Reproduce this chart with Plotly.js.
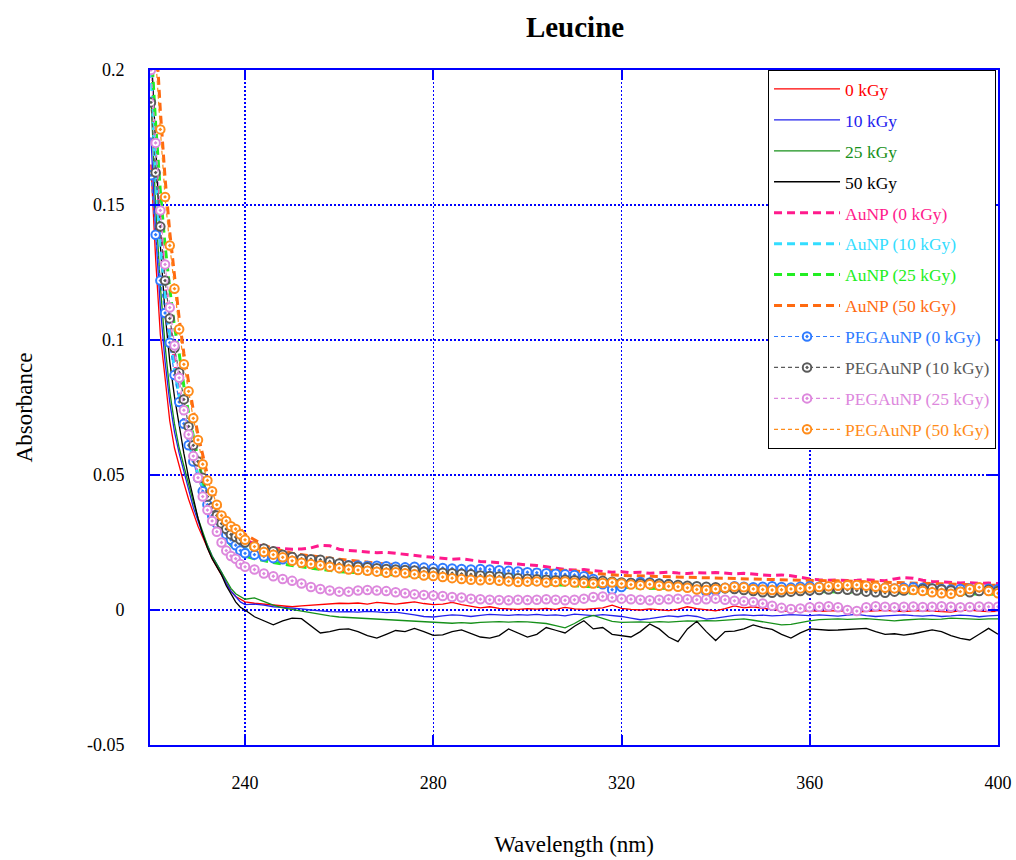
<!DOCTYPE html>
<html>
<head>
<meta charset="utf-8">
<script src="https://cdn.plot.ly/plotly-3.0.1.min.js"></script>
<style>html,body{margin:0;padding:0;background:#fff;}#chart{width:1016px;height:860px;}</style>
</head>
<body>
<div id="chart"></div>
<script>
// Wavelength (nm)
const wavelength = [220,221,222,223,224,225,226,227,228,229,230,231,232,233,234,235,236,237,238,239,240,
242,244,246,248,250,252,254,256,258,260,
262,264,266,268,270,272,274,276,278,280,
282,284,286,288,290,292,294,296,298,300,
302,304,306,308,310,312,314,316,318,320,
322,324,326,328,330,332,334,336,338,340,
342,344,346,348,350,352,354,356,358,360,
362,364,366,368,370,372,374,376,378,380,
382,384,386,388,390,392,394,396,398,400];

const kGy0 = [0.165,0.130,0.102,0.085,0.070,0.060,0.053,0.047,0.041,0.036,0.031,0.027,0.023,0.019,0.016,0.013,0.010,0.007,0.005,0.004,0.003,
0.0025,0.0022,0.0020,0.0015,0.0012,0.0015,0.0018,0.0020,0.0022,0.0025,
0.0024,0.0026,0.0022,0.0028,0.0025,0.0022,0.0026,0.0030,0.0024,0.0020,
0.0022,0.0028,0.0020,0.0014,0.0008,0.0012,0.0006,0.0004,0.0002,0.0005,
0.0003,0.0006,0.0002,0.0010,0.0004,0.0002,0.0005,0.0008,0.0018,0.0006,
0.0002,0.0000,0.0004,0.0001,-0.0002,0.0003,0.0012,0.0005,0.0000,-0.0003,
0.0005,0.0015,0.0008,0.0012,0.0006,0.0003,-0.0003,-0.0006,-0.0004,-0.0002,
-0.0005,-0.0004,-0.0002,-0.0006,-0.0008,-0.0005,-0.0003,-0.0001,-0.0004,-0.0006,
-0.0003,-0.0002,-0.0004,-0.0006,-0.0008,-0.0002,0.0000,-0.0004,-0.0006,-0.0005];

const kGy10 = [0.175,0.140,0.112,0.092,0.077,0.066,0.058,0.051,0.044,0.038,0.033,0.028,0.024,0.020,0.017,0.014,0.010,0.007,0.005,0.003,0.002,
0.0022,0.0018,0.0012,0.0010,0.0008,0.0004,0.0000,-0.0004,-0.0006,-0.0007,
-0.0006,-0.0008,-0.0005,-0.0007,-0.0010,-0.0008,-0.0012,-0.0018,-0.0024,-0.0026,
-0.0022,-0.0018,-0.0020,-0.0024,-0.0020,-0.0016,-0.0018,-0.0020,-0.0017,-0.0019,
-0.0016,-0.0020,-0.0018,-0.0022,-0.0015,-0.0019,-0.0021,-0.0017,-0.0020,-0.0024,
-0.0030,-0.0036,-0.0032,-0.0026,-0.0022,-0.0025,-0.0020,-0.0024,-0.0034,-0.0030,
-0.0024,-0.0020,-0.0018,-0.0021,-0.0019,-0.0022,-0.0020,-0.0017,-0.0019,-0.0021,
-0.0018,-0.0020,-0.0023,-0.0019,-0.0016,-0.0021,-0.0024,-0.0022,-0.0020,-0.0018,
-0.0021,-0.0023,-0.0020,-0.0024,-0.0022,-0.0019,-0.0021,-0.0025,-0.0022,-0.0020];

const kGy25 = [0.190,0.150,0.120,0.098,0.081,0.069,0.060,0.053,0.046,0.040,0.034,0.029,0.024,0.020,0.017,0.014,0.011,0.008,0.006,0.005,0.004,
0.0045,0.0030,0.0018,0.0008,0.0002,-0.0005,-0.0010,-0.0016,-0.0022,-0.0026,
-0.0028,-0.0031,-0.0033,-0.0034,-0.0036,-0.0038,-0.0040,-0.0042,-0.0044,-0.0046,
-0.0048,-0.0049,-0.0047,-0.0049,-0.0046,-0.0044,-0.0043,-0.0045,-0.0043,-0.0044,
-0.0046,-0.0050,-0.0058,-0.0066,-0.0050,-0.0030,-0.0020,-0.0030,-0.0042,-0.0046,
-0.0045,-0.0044,-0.0046,-0.0043,-0.0045,-0.0042,-0.0040,-0.0041,-0.0039,-0.0040,
-0.0037,-0.0034,-0.0033,-0.0038,-0.0044,-0.0050,-0.0055,-0.0053,-0.0046,-0.0040,
-0.0036,-0.0034,-0.0033,-0.0035,-0.0034,-0.0032,-0.0035,-0.0038,-0.0040,-0.0037,
-0.0034,-0.0033,-0.0035,-0.0034,-0.0030,-0.0032,-0.0034,-0.0035,-0.0033,-0.0033];

const kGy50 = [0.210,0.170,0.135,0.110,0.092,0.079,0.068,0.058,0.049,0.041,0.034,0.028,0.023,0.019,0.016,0.013,0.009,0.006,0.003,0.001,0.000,
-0.0025,-0.0040,-0.0055,-0.0040,-0.0030,-0.0032,-0.0060,-0.0085,-0.0080,-0.0072,
-0.0070,-0.0080,-0.0095,-0.0104,-0.0090,-0.0076,-0.0080,-0.0068,-0.0080,-0.0094,
-0.0092,-0.0080,-0.0074,-0.0088,-0.0100,-0.0104,-0.0095,-0.0070,-0.0085,-0.0100,
-0.0090,-0.0065,-0.0075,-0.0085,-0.0060,-0.0040,-0.0070,-0.0065,-0.0090,-0.0095,
-0.0100,-0.0080,-0.0052,-0.0070,-0.0100,-0.0117,-0.0070,-0.0042,-0.0080,-0.0113,
-0.0080,-0.0078,-0.0070,-0.0055,-0.0065,-0.0072,-0.0090,-0.0104,-0.0085,-0.0070,
-0.0072,-0.0075,-0.0074,-0.0072,-0.0070,-0.0068,-0.0080,-0.0090,-0.0088,-0.0093,
-0.0088,-0.0080,-0.0074,-0.0080,-0.0095,-0.0105,-0.0111,-0.0090,-0.0068,-0.0090];

const auNP0 = [0.210,0.170,0.142,0.120,0.104,0.091,0.080,0.071,0.063,0.056,0.050,0.045,0.041,0.038,0.036,0.034,0.032,0.030,0.028,0.027,0.026,
0.0245,0.0235,0.0230,0.0228,0.0225,0.0226,0.0230,0.0240,0.0238,0.0225,
0.0220,0.0218,0.0215,0.0212,0.0214,0.0210,0.0205,0.0200,0.0198,0.0195,
0.0192,0.0188,0.0190,0.0185,0.0180,0.0178,0.0176,0.0172,0.0170,0.0167,
0.0165,0.0160,0.0155,0.0150,0.0148,0.0150,0.0146,0.0142,0.0140,0.0142,
0.0138,0.0140,0.0136,0.0138,0.0140,0.0137,0.0135,0.0138,0.0137,0.0139,
0.0136,0.0134,0.0136,0.0132,0.0130,0.0128,0.0130,0.0127,0.0120,0.0115,
0.0112,0.0110,0.0111,0.0109,0.0110,0.0112,0.0110,0.0108,0.0115,0.0120,
0.0118,0.0110,0.0106,0.0104,0.0102,0.0100,0.0101,0.0099,0.0100,0.0098];

const auNP10 = [0.200,0.160,0.135,0.117,0.102,0.089,0.079,0.070,0.062,0.056,0.050,0.045,0.040,0.036,0.033,0.031,0.029,0.027,0.025,0.024,0.023,
0.0200,0.0192,0.0186,0.0182,0.0178,0.0174,0.0170,0.0167,0.0164,0.0162,
0.0160,0.0158,0.0157,0.0156,0.0154,0.0152,0.0151,0.0150,0.0148,0.0146,
0.0145,0.0143,0.0141,0.0140,0.0138,0.0136,0.0134,0.0132,0.0130,0.0128,
0.0126,0.0124,0.0122,0.0120,0.0118,0.0116,0.0114,0.0112,0.0110,0.0108,
0.0106,0.0104,0.0102,0.0100,0.0098,0.0096,0.0094,0.0092,0.0090,0.0088,
0.0087,0.0086,0.0085,0.0084,0.0083,0.0082,0.0081,0.0080,0.0079,0.0078,
0.0078,0.0077,0.0076,0.0076,0.0075,0.0075,0.0074,0.0074,0.0073,0.0073,
0.0072,0.0072,0.0071,0.0071,0.0070,0.0070,0.0069,0.0069,0.0068,0.0068];

const auNP25 = [0.210,0.180,0.155,0.135,0.119,0.105,0.095,0.083,0.073,0.064,0.056,0.048,0.042,0.037,0.033,0.029,0.026,0.024,0.022,0.021,0.020,
0.0190,0.0182,0.0176,0.0170,0.0166,0.0160,0.0155,0.0150,0.0146,0.0142,
0.0140,0.0138,0.0135,0.0133,0.0130,0.0128,0.0126,0.0124,0.0122,0.0120,
0.0118,0.0116,0.0114,0.0112,0.0110,0.0108,0.0106,0.0104,0.0102,0.0100,
0.0098,0.0096,0.0094,0.0092,0.0090,0.0088,0.0086,0.0088,0.0086,0.0084,
0.0084,0.0082,0.0080,0.0081,0.0080,0.0079,0.0078,0.0077,0.0076,0.0075,
0.0074,0.0074,0.0073,0.0072,0.0072,0.0071,0.0070,0.0070,0.0069,0.0068,
0.0068,0.0067,0.0067,0.0066,0.0066,0.0065,0.0065,0.0064,0.0064,0.0063,
0.0063,0.0062,0.0062,0.0061,0.0061,0.0060,0.0060,0.0059,0.0059,0.0058];

const auNP50 = [0.260,0.215,0.185,0.160,0.140,0.123,0.108,0.095,0.084,0.074,0.065,0.057,0.050,0.045,0.041,0.037,0.034,0.032,0.031,0.030,0.028,
0.0260,0.0240,0.0228,0.0218,0.0210,0.0205,0.0200,0.0196,0.0192,0.0188,
0.0184,0.0180,0.0176,0.0172,0.0170,0.0168,0.0165,0.0162,0.0160,0.0158,
0.0156,0.0155,0.0153,0.0152,0.0150,0.0150,0.0148,0.0148,0.0146,0.0148,
0.0148,0.0146,0.0148,0.0147,0.0145,0.0140,0.0136,0.0133,0.0130,0.0128,
0.0127,0.0126,0.0125,0.0124,0.0123,0.0122,0.0121,0.0120,0.0118,0.0117,
0.0116,0.0115,0.0115,0.0114,0.0113,0.0112,0.0111,0.0111,0.0110,0.0110,
0.0110,0.0109,0.0108,0.0107,0.0106,0.0105,0.0104,0.0103,0.0102,0.0101,
0.0100,0.0099,0.0098,0.0097,0.0096,0.0095,0.0094,0.0093,0.0092,0.0091];

const pegAuNP0 = [0.161,0.139,0.122,0.110,0.099,0.087,0.077,0.069,0.061,0.055,0.049,0.044,0.039,0.035,0.032,0.030,0.028,0.026,0.024,0.022,0.021,
0.0205,0.0198,0.0192,0.0188,0.0185,0.0180,0.0176,0.0172,0.0170,0.0168,
0.0166,0.0165,0.0163,0.0164,0.0162,0.0160,0.0158,0.0160,0.0157,0.0155,
0.0156,0.0154,0.0152,0.0150,0.0152,0.0150,0.0147,0.0145,0.0143,0.0140,
0.0138,0.0136,0.0134,0.0132,0.0130,0.0125,0.0115,0.0095,0.0075,0.0085,
0.0100,0.0104,0.0102,0.0098,0.0095,0.0090,0.0085,0.0078,0.0068,0.0072,
0.0082,0.0088,0.0086,0.0084,0.0086,0.0088,0.0085,0.0083,0.0086,0.0088,
0.0086,0.0084,0.0087,0.0089,0.0088,0.0086,0.0084,0.0082,0.0080,0.0082,
0.0084,0.0082,0.0080,0.0078,0.0076,0.0078,0.0080,0.0082,0.0079,0.0077];

const pegAuNP10 = [0.188,0.162,0.142,0.122,0.108,0.097,0.088,0.078,0.068,0.061,0.055,0.049,0.042,0.038,0.035,0.032,0.030,0.028,0.027,0.026,0.025,
0.0235,0.0228,0.0218,0.0205,0.0196,0.0190,0.0188,0.0186,0.0180,0.0172,
0.0165,0.0160,0.0158,0.0155,0.0152,0.0150,0.0148,0.0146,0.0142,0.0140,
0.0138,0.0136,0.0134,0.0132,0.0128,0.0126,0.0124,0.0120,0.0118,0.0116,
0.0114,0.0112,0.0110,0.0112,0.0110,0.0108,0.0106,0.0108,0.0105,0.0102,
0.0100,0.0098,0.0100,0.0097,0.0095,0.0093,0.0090,0.0088,0.0086,0.0084,
0.0080,0.0078,0.0074,0.0070,0.0066,0.0064,0.0066,0.0068,0.0070,0.0072,
0.0074,0.0076,0.0078,0.0075,0.0072,0.0068,0.0066,0.0064,0.0068,0.0072,
0.0075,0.0078,0.0080,0.0076,0.0072,0.0068,0.0066,0.0070,0.0074,0.0070];

const pegAuNP25 = [0.200,0.173,0.148,0.128,0.112,0.098,0.086,0.074,0.065,0.057,0.049,0.042,0.037,0.033,0.029,0.025,0.022,0.020,0.019,0.017,0.016,
0.0150,0.0135,0.0125,0.0115,0.0108,0.0098,0.0085,0.0078,0.0072,0.0068,
0.0068,0.0072,0.0074,0.0072,0.0070,0.0066,0.0062,0.0058,0.0056,0.0054,
0.0052,0.0048,0.0046,0.0042,0.0040,0.0038,0.0037,0.0036,0.0038,0.0037,
0.0038,0.0040,0.0038,0.0036,0.0038,0.0042,0.0048,0.0050,0.0046,0.0042,
0.0040,0.0038,0.0036,0.0038,0.0040,0.0042,0.0040,0.0038,0.0040,0.0042,
0.0038,0.0034,0.0032,0.0030,0.0024,0.0016,0.0008,0.0004,0.0006,0.0010,
0.0012,0.0014,0.0010,0.0000,-0.0004,0.0010,0.0014,0.0012,0.0010,0.0012,
0.0013,0.0011,0.0012,0.0014,0.0012,0.0010,0.0011,0.0013,0.0012,0.0012];

const pegAuNP50 = [0.240,0.205,0.178,0.153,0.135,0.119,0.104,0.091,0.081,0.071,0.063,0.054,0.048,0.044,0.039,0.035,0.033,0.031,0.030,0.028,0.026,
0.0235,0.0215,0.0205,0.0195,0.0182,0.0175,0.0170,0.0166,0.0160,0.0155,
0.0150,0.0148,0.0145,0.0142,0.0138,0.0140,0.0136,0.0132,0.0128,0.0126,
0.0122,0.0118,0.0115,0.0112,0.0110,0.0112,0.0108,0.0106,0.0104,0.0105,
0.0106,0.0102,0.0104,0.0106,0.0102,0.0100,0.0098,0.0100,0.0102,0.0098,
0.0094,0.0092,0.0095,0.0090,0.0088,0.0086,0.0082,0.0076,0.0074,0.0078,
0.0082,0.0086,0.0084,0.0078,0.0076,0.0074,0.0075,0.0078,0.0080,0.0082,
0.0085,0.0088,0.0090,0.0092,0.0093,0.0090,0.0086,0.0082,0.0080,0.0078,
0.0074,0.0070,0.0066,0.0062,0.0060,0.0068,0.0078,0.0084,0.0070,0.0062];

const seriesNames = ['0 kGy','10 kGy','25 kGy','50 kGy','AuNP (0 kGy)','AuNP (10 kGy)','AuNP (25 kGy)','AuNP (50 kGy)',
  'PEGAuNP (0 kGy)','PEGAuNP (10 kGy)','PEGAuNP (25 kGy)','PEGAuNP (50 kGy)'];
const seriesValues = [kGy0,kGy10,kGy25,kGy50,auNP0,auNP10,auNP25,auNP50,pegAuNP0,pegAuNP10,pegAuNP25,pegAuNP50];
const seriesColors = ['#ff0000','#2222ee','#16901a','#000000','#ff1a8c','#33ddff','#22ee22','#ff6a10',
  '#2f7bff','#5a5a5a','#dd88dd','#ff8c1a'];
const xTickVals = [240,280,320,360,400];
const xTickText = ['240','280','320','360','400'];
const yTickVals = [0.2,0.15,0.1,0.05,0,-0.05];
const yTickText = ['0.2','0.15','0.1','0.05','0','-0.05'];

const FONT = 'Liberation Serif, Times New Roman, serif';
const AXIS_BLUE = '#0000ff';
const traces = seriesValues.map((vals, i) => {
  const kind = i < 4 ? 'line' : (i < 8 ? 'au' : 'peg');
  const t = {
    x: wavelength, y: vals, type: 'scatter',
    name: '<span style="color:' + seriesColors[i] + '">' + seriesNames[i] + '</span>',
    legendgroup: 'g' + i,
    cliponaxis: true
  };
  if (kind === 'line') {
    t.mode = 'lines';
    t.line = {color: seriesColors[i], width: 1.3};
  } else if (kind === 'au') {
    t.mode = 'lines';
    t.line = {color: seriesColors[i], width: 3, dash: '8px,5px'};
  } else {
    t.mode = 'lines+markers';
    t.line = {color: seriesColors[i], width: 1.2, dash: '4px,3px'};
    t.marker = {symbol: 'circle-dot', size: 8.5, color: '#ffffff', line: {color: seriesColors[i], width: 2}};
  }
  return t;
});

const layout = {
  width: 1016, height: 860,
  paper_bgcolor: '#ffffff', plot_bgcolor: '#ffffff',
  margin: {l: 150, r: 18, t: 70, b: 115},
  font: {family: FONT, size: 18, color: '#000000'},
  title: {text: '<b>Leucine</b>', font: {family: FONT, size: 29, color: '#000'}, x: 0.566, xanchor: 'center', y: 0.969, yanchor: 'middle'},
  showlegend: true,
  legend: {
    x: 0.7288, xanchor: 'left', y: 1, yanchor: 'top',
    bgcolor: '#ffffff', bordercolor: '#000000', borderwidth: 1,
    font: {family: FONT, size: 17.5},
    tracegroupgap: 5.2, itemwidth: 66,
    traceorder: 'grouped'
  },
  xaxis: {
    range: [219.8, 400], tickmode: 'array', tickvals: xTickVals, ticktext: xTickText,
    showline: true, mirror: 'ticks', linecolor: AXIS_BLUE, linewidth: 2,
    ticks: 'inside', ticklen: 10, tickwidth: 2, tickcolor: AXIS_BLUE,
    showgrid: true, gridcolor: AXIS_BLUE, griddash: '2px,2px', gridwidth: 1.5,
    zeroline: false, ticklabelstandoff: 20,
    tickfont: {family: FONT, size: 18},
    title: {text: 'Wavelength (nm)', font: {family: FONT, size: 23}, standoff: 44}
  },
  yaxis: {
    range: [-0.05, 0.2], tickmode: 'array', tickvals: yTickVals, ticktext: yTickText,
    showline: true, mirror: 'ticks', linecolor: AXIS_BLUE, linewidth: 2,
    ticks: 'inside', ticklen: 10, tickwidth: 2, tickcolor: AXIS_BLUE,
    showgrid: true, gridcolor: AXIS_BLUE, griddash: '2px,2px', gridwidth: 1.5,
    zeroline: false, ticklabelstandoff: 20,
    tickfont: {family: FONT, size: 18},
    title: {text: 'Absorbance', font: {family: FONT, size: 23}, standoff: 48}
  }
};

Plotly.newPlot('chart', traces, layout, {displayModeBar: false, staticPlot: true});
</script>
</body>
</html>
